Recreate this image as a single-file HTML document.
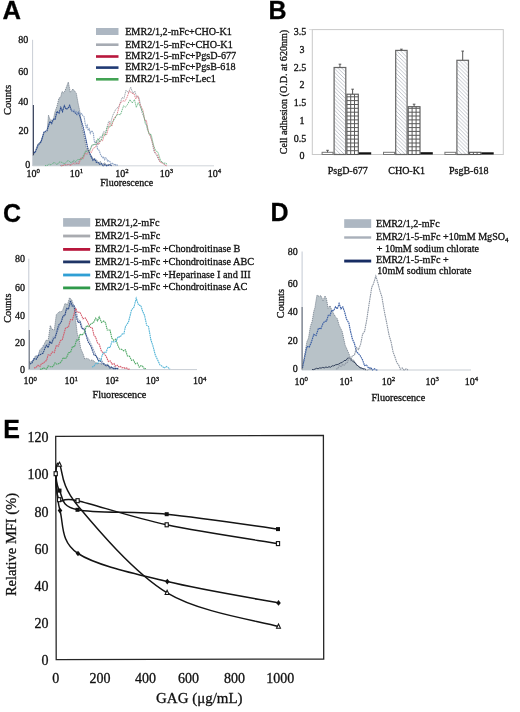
<!DOCTYPE html>
<html><head><meta charset="utf-8"><style>
html,body{margin:0;padding:0;background:#fff;}
svg{display:block;filter:blur(0.3px);}
text{stroke:#111;stroke-width:0.3px;}
</style></head><body>
<svg width="520" height="712" viewBox="0 0 520 712">
<rect width="520" height="712" fill="#fff"/>
<text x="2.5" y="19.1" font-family="Liberation Sans" font-weight="bold" font-size="25.6" fill="#000">A</text>
<rect x="96" y="28" width="22.5" height="7" fill="#adb7c2"/>
<rect x="96" y="43.400000000000006" width="22.5" height="2.6" fill="#a6abb3"/>
<rect x="96" y="55.2" width="22.5" height="2.6" fill="#b8173c"/>
<rect x="96" y="66.3" width="22.5" height="2.6" fill="#203a74"/>
<rect x="96" y="78.0" width="22.5" height="2.6" fill="#43a354"/>
<text x="125.2" y="34.7" font-family="Liberation Serif" font-size="10.15" text-anchor="start" font-weight="normal" fill="#111" >EMR2/1,2-mFc+CHO-K1</text>
<text x="125.2" y="48" font-family="Liberation Serif" font-size="10.15" text-anchor="start" font-weight="normal" fill="#111" >EMR2/1-5-mFc+CHO-K1</text>
<text x="125.2" y="59.4" font-family="Liberation Serif" font-size="10.15" text-anchor="start" font-weight="normal" fill="#111" >EMR2/1-5-mFc+PgsD-677</text>
<text x="125.2" y="70.4" font-family="Liberation Serif" font-size="10.15" text-anchor="start" font-weight="normal" fill="#111" >EMR2/1-5-mFc+PgsB-618</text>
<text x="125.2" y="82" font-family="Liberation Serif" font-size="10.15" text-anchor="start" font-weight="normal" fill="#111" >EMR2/1-5-mFc+Lec1</text>
<line x1="32.6" y1="39.8" x2="32.6" y2="166" stroke="#c9ced6" stroke-width="1"/>
<line x1="32.6" y1="165.8" x2="214" y2="165.8" stroke="#c4c9d0" stroke-width="0.8"/>
<text x="28.3" y="43" font-family="Liberation Serif" font-size="10" text-anchor="end" font-weight="normal" fill="#111" >80</text>
<text x="28.3" y="75.4" font-family="Liberation Serif" font-size="10" text-anchor="end" font-weight="normal" fill="#111" >60</text>
<text x="28.3" y="104.9" font-family="Liberation Serif" font-size="10" text-anchor="end" font-weight="normal" fill="#111" >40</text>
<text x="28.5" y="134.4" font-family="Liberation Serif" font-size="10" text-anchor="end" font-weight="normal" fill="#111" >20</text>
<text x="30.2" y="167.9" font-family="Liberation Serif" font-size="10" text-anchor="end" font-weight="normal" fill="#111" >0</text>
<text x="33.3" y="176.5" font-family="Liberation Serif" font-size="10" text-anchor="middle" fill="#111">10<tspan font-size="6.8" dy="-3.6">0</tspan></text>
<text x="76.5" y="176.5" font-family="Liberation Serif" font-size="10" text-anchor="middle" fill="#111">10<tspan font-size="6.8" dy="-3.6">1</tspan></text>
<text x="122" y="176.5" font-family="Liberation Serif" font-size="10" text-anchor="middle" fill="#111">10<tspan font-size="6.8" dy="-3.6">2</tspan></text>
<text x="166.5" y="176.5" font-family="Liberation Serif" font-size="10" text-anchor="middle" fill="#111">10<tspan font-size="6.8" dy="-3.6">3</tspan></text>
<text x="214.5" y="176.5" font-family="Liberation Serif" font-size="10" text-anchor="middle" fill="#111">10<tspan font-size="6.8" dy="-3.6">4</tspan></text>
<text x="126.7" y="185.8" font-family="Liberation Serif" font-size="10" text-anchor="middle" font-weight="normal" fill="#111" >Fluorescence</text>
<text transform="translate(11.3,100) rotate(-90)" font-family="Liberation Serif" font-size="10.6" text-anchor="middle" fill="#111">Counts</text>
<polygon points="33.0,165.8 33.0,156.0 35.0,151.7 38.0,143.9 41.0,141.1 44.0,132.2 47.0,132.0 48.5,115.1 50.0,119.5 53.0,120.9 55.0,111.8 57.0,106.2 59.0,97.9 60.5,97.7 62.0,91.5 64.0,93.1 65.7,89.0 68.3,82.0 70.3,92.2 73.0,89.0 76.3,93.2 78.3,104.2 80.0,111.9 82.1,127.9 84.1,136.2 86.2,147.5 89.3,152.9 92.3,157.4 94.4,160.4 96.4,159.7 98.5,162.4 100.5,161.5 102.6,164.9 104.6,162.6 106.7,165.4 108.7,164.2 112.0,165.8 112.0,165.8" fill="#b8c2c8" stroke="none"/><polyline points="33.0,156.0 35.0,151.7 38.0,143.9 41.0,141.1 44.0,132.2 47.0,132.0 48.5,115.1 50.0,119.5 53.0,120.9 55.0,111.8 57.0,106.2 59.0,97.9 60.5,97.7 62.0,91.5 64.0,93.1 65.7,89.0 68.3,82.0 70.3,92.2 73.0,89.0 76.3,93.2 78.3,104.2 80.0,111.9 82.1,127.9 84.1,136.2 86.2,147.5 89.3,152.9 92.3,157.4 94.4,160.4 96.4,159.7 98.5,162.4 100.5,161.5 102.6,164.9 104.6,162.6 106.7,165.4 108.7,164.2 112.0,165.8" fill="none" stroke="#6d7886" stroke-width="0.8" stroke-dasharray="1.2 0.8"/>
<polyline points="33.6,152.0 35.0,152.8 38.0,145.3 41.0,142.0 44.0,132.1 47.0,130.5 50.0,121.4 51.7,123.5 53.3,119.3 55.0,119.4 57.0,111.5 59.0,113.2 60.8,107.5 62.5,111.6 64.3,105.8 66.1,109.2 67.9,108.4 69.7,105.4 71.5,110.8 73.2,111.0 75.0,112.6 76.8,114.4 78.5,112.4 80.3,117.5 83.0,126.3 85.0,135.3 88.0,149.5 90.0,154.0 93.0,160.4 94.7,159.0 96.3,162.3 98.0,162.5 99.8,164.2 101.5,163.6 103.2,165.8 105.0,164.6 106.8,165.8 108.5,165.1 110.2,164.9 112.0,165.7" fill="none" stroke="#2d4d8f" stroke-width="1.2" stroke-dasharray="1.6 0.5" stroke-opacity="1.0"/>
<line x1="33.4" y1="105" x2="33.4" y2="155" stroke="#2b3550" stroke-width="1"/>
<polyline points="72.0,110.0 73.0,111.5 74.1,109.3 75.1,112.1 76.2,111.0 77.2,114.6 78.2,112.1 79.3,112.0 80.3,114.7 81.6,113.6 82.8,115.6 84.1,116.7 85.1,123.2 86.2,127.4 87.2,125.3 88.2,130.5 89.2,128.9 90.3,133.3 91.3,130.8 92.4,131.5 93.4,133.7 94.4,141.8 95.4,142.7 96.4,142.3 97.5,148.9 98.5,149.5 99.5,151.4 100.5,154.6 101.6,156.4 102.6,157.6 103.6,156.7 104.6,159.7 105.7,157.8 106.7,158.7 107.7,161.3 108.7,160.6 109.8,161.4 110.8,163.3 111.8,164.2 112.8,163.4 113.9,164.9 114.9,163.9 115.9,165.4 117.0,164.9 118.0,165.6" fill="none" stroke="#8ea3c4" stroke-width="1.1" stroke-dasharray="1.6 0.6" stroke-opacity="1.0"/>
<polyline points="60.0,165.5 62.0,165.8 64.0,164.4 66.0,165.8 68.0,164.2 70.0,165.2 72.0,162.8 74.0,161.5 76.0,163.5 78.0,164.0 80.0,158.4 82.1,158.6 84.1,156.0 86.2,150.5 88.2,148.5 90.3,149.9 92.3,145.1 94.4,144.9 96.4,140.3 98.1,144.9 99.9,136.9 101.6,137.5 103.7,131.5 105.7,132.4 108.7,121.2 110.8,122.2 112.8,115.3 115.9,109.1 119.0,106.5 122.1,97.5 124.0,98.5 126.0,90.1 128.5,92.8 130.7,87.2 133.0,93.5 134.8,91.0 136.7,97.0 139.0,97.3 141.9,112.4 143.7,116.7 145.4,120.4 147.5,130.2 149.7,133.2 152.0,141.7 154.0,151.6 156.5,155.3 159.2,160.9 162.0,162.3 164.0,163.7 166.0,165.5" fill="none" stroke="#8e969f" stroke-width="0.9" stroke-dasharray="1.3 0.7" stroke-opacity="1.0"/>
<polyline points="61.0,165.8 63.0,165.8 65.0,164.5 67.0,165.0 69.0,164.4 71.0,165.8 73.0,163.1 75.0,164.3 77.0,162.7 79.0,164.0 81.0,157.8 83.1,159.0 85.1,153.2 87.2,154.3 89.2,150.2 91.3,152.6 93.3,148.1 95.4,147.3 97.4,143.4 99.1,143.9 100.9,139.7 102.6,140.8 104.7,133.5 106.7,134.7 109.7,122.5 111.8,126.3 113.8,118.5 116.9,114.9 120.0,103.3 123.1,100.7 125.0,101.3 127.0,97.4 129.5,90.6 131.7,93.3 134.0,93.7 135.8,99.0 137.7,95.6 140.0,104.3 142.9,110.1 144.7,120.5 146.4,120.4 148.5,132.5 150.7,136.8 153.0,144.1 155.0,152.2 157.5,154.9 160.2,162.3 163.0,163.3 165.0,165.4 167.0,165.8" fill="none" stroke="#dc6f7c" stroke-width="0.9" stroke-dasharray="1.3 0.7" stroke-opacity="1.0"/>
<polyline points="45.0,165.5 47.0,165.8 49.0,163.9 51.0,165.0 53.0,163.0 55.0,162.6 57.0,164.8 59.0,162.1 61.0,162.0 63.0,163.1 65.0,163.7 66.8,161.3 68.5,160.5 70.2,162.4 72.0,162.3 73.9,160.2 75.8,161.9 77.6,159.5 79.5,159.5 81.5,159.7 83.6,154.9 85.6,150.9 87.7,151.9 89.7,150.9 91.8,145.1 93.8,144.5 95.9,144.6 97.9,138.4 99.6,142.0 101.4,140.1 103.1,133.8 105.2,135.8 107.2,126.8 110.2,127.0 112.2,122.2 114.3,119.6 117.4,114.3 120.5,114.7 123.6,105.8 125.5,107.2 127.5,104.5 130.0,99.7 132.2,103.0 134.5,99.6 136.3,107.4 138.2,102.7 140.5,107.0 143.4,113.4 145.2,123.4 146.9,125.4 149.0,134.3 151.2,134.6 153.5,144.9 155.5,150.6 158.0,152.3 160.7,160.9 163.5,163.2 165.5,163.1 167.5,164.5" fill="none" stroke="#5cb07a" stroke-width="0.9" stroke-dasharray="1.3 0.7" stroke-opacity="1.0"/>
<text x="268.6" y="19" font-family="Liberation Sans" font-weight="bold" font-size="25" fill="#000">B</text>
<defs><pattern id="hatch" patternUnits="userSpaceOnUse" width="3.8" height="3.8"><path d="M-1,-1 L4.8,4.8 M-4.8,-1 L1,4.8 M2.8,-1 L8.6,4.8" stroke="#bcc0c8" stroke-width="0.95"/></pattern></defs>
<rect x="312.3" y="29.6" width="191" height="124.9" fill="none" stroke="#c9c9c9" stroke-width="1"/>
<line x1="309" y1="29.6" x2="312.3" y2="29.6" stroke="#d0d0d0" stroke-width="0.8"/>
<text x="306.2" y="35.2" font-family="Liberation Serif" font-size="10" text-anchor="end" font-weight="normal" fill="#111" >3.5</text>
<text x="304.4" y="52.6" font-family="Liberation Serif" font-size="10" text-anchor="end" font-weight="normal" fill="#111" >3</text>
<text x="306.2" y="70.6" font-family="Liberation Serif" font-size="10" text-anchor="end" font-weight="normal" fill="#111" >2.5</text>
<text x="304.4" y="88" font-family="Liberation Serif" font-size="10" text-anchor="end" font-weight="normal" fill="#111" >2</text>
<text x="306.2" y="105.8" font-family="Liberation Serif" font-size="10" text-anchor="end" font-weight="normal" fill="#111" >1.5</text>
<text x="304.4" y="123.8" font-family="Liberation Serif" font-size="10" text-anchor="end" font-weight="normal" fill="#111" >1</text>
<text x="306.2" y="141.8" font-family="Liberation Serif" font-size="10" text-anchor="end" font-weight="normal" fill="#111" >0.5</text>
<text x="304.4" y="158.8" font-family="Liberation Serif" font-size="10" text-anchor="end" font-weight="normal" fill="#111" >0</text>
<text transform="translate(286.8,92) rotate(-90)" font-family="Liberation Serif" font-size="10.1" text-anchor="middle" fill="#111">Cell adhesion (O.D. at 620nm)</text>
<rect x="322.1" y="152.3" width="10.899999999999977" height="2.1999999999999886" fill="#fff" stroke="#777" stroke-width="1"/>
<line x1="327.55" y1="150.3" x2="327.55" y2="152.3" stroke="#555" stroke-width="1"/><line x1="326.25" y1="150.3" x2="328.85" y2="150.3" stroke="#555" stroke-width="1"/>
<rect x="334.1" y="67.5" width="11.699999999999978" height="87.0" fill="url(#hatch)" stroke="#666" stroke-width="1.2"/>
<line x1="339.95" y1="64.2" x2="339.95" y2="67.5" stroke="#555" stroke-width="1"/><line x1="338.65" y1="64.2" x2="341.25" y2="64.2" stroke="#555" stroke-width="1"/>
<rect x="346.9" y="94.2" width="11.400000000000034" height="60.3" fill="#fff" stroke="#555" stroke-width="1.1"/><line x1="350.7" y1="94.2" x2="350.7" y2="154.5" stroke="#5a5a5a" stroke-width="1"/><line x1="354.5" y1="94.2" x2="354.5" y2="154.5" stroke="#5a5a5a" stroke-width="1"/><line x1="346.9" y1="150.7" x2="358.3" y2="150.7" stroke="#5a5a5a" stroke-width="1"/><line x1="346.9" y1="146.8" x2="358.3" y2="146.8" stroke="#5a5a5a" stroke-width="1"/><line x1="346.9" y1="143.0" x2="358.3" y2="143.0" stroke="#5a5a5a" stroke-width="1"/><line x1="346.9" y1="139.1" x2="358.3" y2="139.1" stroke="#5a5a5a" stroke-width="1"/><line x1="346.9" y1="135.3" x2="358.3" y2="135.3" stroke="#5a5a5a" stroke-width="1"/><line x1="346.9" y1="131.4" x2="358.3" y2="131.4" stroke="#5a5a5a" stroke-width="1"/><line x1="346.9" y1="127.6" x2="358.3" y2="127.6" stroke="#5a5a5a" stroke-width="1"/><line x1="346.9" y1="123.7" x2="358.3" y2="123.7" stroke="#5a5a5a" stroke-width="1"/><line x1="346.9" y1="119.9" x2="358.3" y2="119.9" stroke="#5a5a5a" stroke-width="1"/><line x1="346.9" y1="116.0" x2="358.3" y2="116.0" stroke="#5a5a5a" stroke-width="1"/><line x1="346.9" y1="112.2" x2="358.3" y2="112.2" stroke="#5a5a5a" stroke-width="1"/><line x1="346.9" y1="108.3" x2="358.3" y2="108.3" stroke="#5a5a5a" stroke-width="1"/><line x1="346.9" y1="104.5" x2="358.3" y2="104.5" stroke="#5a5a5a" stroke-width="1"/><line x1="346.9" y1="100.6" x2="358.3" y2="100.6" stroke="#5a5a5a" stroke-width="1"/><line x1="346.9" y1="96.8" x2="358.3" y2="96.8" stroke="#5a5a5a" stroke-width="1"/>
<line x1="352.6" y1="89.2" x2="352.6" y2="94.2" stroke="#555" stroke-width="1"/><line x1="351.3" y1="89.2" x2="353.90000000000003" y2="89.2" stroke="#555" stroke-width="1"/>
<rect x="358.8" y="152.3" width="12.399999999999977" height="2.1999999999999886" fill="#111"/>
<rect x="383.5" y="152.3" width="11.100000000000023" height="2.1999999999999886" fill="#fff" stroke="#777" stroke-width="1"/>
<rect x="395.70000000000005" y="50.4" width="11.399999999999967" height="104.1" fill="url(#hatch)" stroke="#666" stroke-width="1.2"/>
<line x1="401.4" y1="49.2" x2="401.4" y2="50.4" stroke="#555" stroke-width="1"/><line x1="400.09999999999997" y1="49.2" x2="402.7" y2="49.2" stroke="#555" stroke-width="1"/>
<rect x="408.2" y="106.7" width="11.800000000000011" height="47.8" fill="#fff" stroke="#555" stroke-width="1.1"/><line x1="412.1" y1="106.7" x2="412.1" y2="154.5" stroke="#5a5a5a" stroke-width="1"/><line x1="416.1" y1="106.7" x2="416.1" y2="154.5" stroke="#5a5a5a" stroke-width="1"/><line x1="408.2" y1="150.7" x2="420.0" y2="150.7" stroke="#5a5a5a" stroke-width="1"/><line x1="408.2" y1="146.8" x2="420.0" y2="146.8" stroke="#5a5a5a" stroke-width="1"/><line x1="408.2" y1="143.0" x2="420.0" y2="143.0" stroke="#5a5a5a" stroke-width="1"/><line x1="408.2" y1="139.1" x2="420.0" y2="139.1" stroke="#5a5a5a" stroke-width="1"/><line x1="408.2" y1="135.3" x2="420.0" y2="135.3" stroke="#5a5a5a" stroke-width="1"/><line x1="408.2" y1="131.4" x2="420.0" y2="131.4" stroke="#5a5a5a" stroke-width="1"/><line x1="408.2" y1="127.6" x2="420.0" y2="127.6" stroke="#5a5a5a" stroke-width="1"/><line x1="408.2" y1="123.7" x2="420.0" y2="123.7" stroke="#5a5a5a" stroke-width="1"/><line x1="408.2" y1="119.9" x2="420.0" y2="119.9" stroke="#5a5a5a" stroke-width="1"/><line x1="408.2" y1="116.0" x2="420.0" y2="116.0" stroke="#5a5a5a" stroke-width="1"/><line x1="408.2" y1="112.2" x2="420.0" y2="112.2" stroke="#5a5a5a" stroke-width="1"/><line x1="408.2" y1="108.3" x2="420.0" y2="108.3" stroke="#5a5a5a" stroke-width="1"/>
<line x1="414.1" y1="104.2" x2="414.1" y2="106.7" stroke="#555" stroke-width="1"/><line x1="412.8" y1="104.2" x2="415.40000000000003" y2="104.2" stroke="#555" stroke-width="1"/>
<rect x="420.5" y="152.2" width="12.300000000000011" height="2.3000000000000114" fill="#111"/>
<rect x="444.9" y="152.3" width="10.900000000000034" height="2.1999999999999886" fill="#fff" stroke="#777" stroke-width="1"/>
<rect x="456.90000000000003" y="60.3" width="11.600000000000012" height="94.2" fill="url(#hatch)" stroke="#666" stroke-width="1.2"/>
<line x1="462.70000000000005" y1="51.1" x2="462.70000000000005" y2="60.3" stroke="#555" stroke-width="1"/><line x1="461.40000000000003" y1="51.1" x2="464.00000000000006" y2="51.1" stroke="#555" stroke-width="1"/>
<rect x="469.6" y="152.3" width="11.299999999999955" height="2.1999999999999886" fill="#fff" stroke="#555" stroke-width="1.1"/><line x1="473.4" y1="152.3" x2="473.4" y2="154.5" stroke="#5a5a5a" stroke-width="1"/><line x1="477.1" y1="152.3" x2="477.1" y2="154.5" stroke="#5a5a5a" stroke-width="1"/>
<rect x="481.4" y="152.3" width="12.300000000000011" height="2.1999999999999886" fill="#111"/>
<text x="347.7" y="173.8" font-family="Liberation Serif" font-size="10" text-anchor="middle" font-weight="normal" fill="#111" >PsgD-677</text>
<text x="406.6" y="173.8" font-family="Liberation Serif" font-size="10" text-anchor="middle" font-weight="normal" fill="#111" >CHO-K1</text>
<text x="468.7" y="173.8" font-family="Liberation Serif" font-size="10" text-anchor="middle" font-weight="normal" fill="#111" >PsgB-618</text>
<text x="2.9" y="221.6" font-family="Liberation Sans" font-weight="bold" font-size="25" fill="#000">C</text>
<rect x="63.1" y="218.1" width="27.1" height="8.6" fill="#adb7c2"/>
<rect x="63.1" y="234.6" width="27.1" height="2.8" fill="#a9abb0"/>
<rect x="63.1" y="248.0" width="27.1" height="2.8" fill="#b8173c"/>
<rect x="63.1" y="260.5" width="27.1" height="2.8" fill="#1f3566"/>
<rect x="63.1" y="273.6" width="27.1" height="2.8" fill="#2f9fd4"/>
<rect x="63.1" y="286.5" width="27.1" height="2.8" fill="#2f9a4a"/>
<text x="95" y="226" font-family="Liberation Serif" font-size="10.22" text-anchor="start" font-weight="normal" fill="#111" >EMR2/1,2-mFc</text>
<text x="95" y="239.4" font-family="Liberation Serif" font-size="10.22" text-anchor="start" font-weight="normal" fill="#111" >EMR2/1-5-mFc</text>
<text x="95" y="252.3" font-family="Liberation Serif" font-size="10.22" text-anchor="start" font-weight="normal" fill="#111" >EMR2/1-5-mFc +Chondroitinase B</text>
<text x="95" y="264.8" font-family="Liberation Serif" font-size="10.22" text-anchor="start" font-weight="normal" fill="#111" >EMR2/1-5-mFc +Chondroitinase ABC</text>
<text x="95" y="277.7" font-family="Liberation Serif" font-size="10.22" text-anchor="start" font-weight="normal" fill="#111" >EMR2/1-5-mFc +Heparinase I and III</text>
<text x="95" y="290.4" font-family="Liberation Serif" font-size="10.22" text-anchor="start" font-weight="normal" fill="#111" >EMR2/1-5-mFc +Chondroitinase AC</text>
<line x1="28.8" y1="258.7" x2="28.8" y2="370" stroke="#c3c9d3" stroke-width="1"/>
<line x1="28.8" y1="369.6" x2="197" y2="369.6" stroke="#b9c0c8" stroke-width="0.8"/>
<text x="24.9" y="261.8" font-family="Liberation Serif" font-size="10" text-anchor="end" font-weight="normal" fill="#111" >80</text>
<text x="24.9" y="291.2" font-family="Liberation Serif" font-size="10" text-anchor="end" font-weight="normal" fill="#111" >60</text>
<text x="24.9" y="319.4" font-family="Liberation Serif" font-size="10" text-anchor="end" font-weight="normal" fill="#111" >40</text>
<text x="24.9" y="345.7" font-family="Liberation Serif" font-size="10" text-anchor="end" font-weight="normal" fill="#111" >20</text>
<text x="24.9" y="372.8" font-family="Liberation Serif" font-size="10" text-anchor="end" font-weight="normal" fill="#111" >0</text>
<text x="30.3" y="384.4" font-family="Liberation Serif" font-size="10" text-anchor="middle" fill="#111">10<tspan font-size="6.8" dy="-3.6">0</tspan></text>
<text x="71.2" y="384.4" font-family="Liberation Serif" font-size="10" text-anchor="middle" fill="#111">10<tspan font-size="6.8" dy="-3.6">1</tspan></text>
<text x="112" y="384.4" font-family="Liberation Serif" font-size="10" text-anchor="middle" fill="#111">10<tspan font-size="6.8" dy="-3.6">2</tspan></text>
<text x="152.5" y="384.4" font-family="Liberation Serif" font-size="10" text-anchor="middle" fill="#111">10<tspan font-size="6.8" dy="-3.6">3</tspan></text>
<text x="199.6" y="384.4" font-family="Liberation Serif" font-size="10" text-anchor="middle" fill="#111">10<tspan font-size="6.8" dy="-3.6">4</tspan></text>
<text x="119.4" y="397.8" font-family="Liberation Serif" font-size="10.2" text-anchor="middle" font-weight="normal" fill="#111" >Fluorescence</text>
<text transform="translate(11.4,308.2) rotate(-90)" font-family="Liberation Serif" font-size="10.3" text-anchor="middle" fill="#111">Counts</text>
<polygon points="29.2,369.6 29.2,362.0 31.1,361.7 33.0,360.6 35.5,355.8 38.1,356.4 39.8,349.9 41.5,348.2 43.2,346.4 46.0,340.3 48.2,340.3 50.3,325.4 52.0,329.3 54.3,330.0 56.3,314.6 59.0,311.9 62.4,311.2 65.0,303.5 67.5,304.6 69.5,297.9 71.5,299.5 73.8,305.4 75.6,319.6 77.3,334.0 79.0,338.0 80.7,348.5 83.0,353.7 84.8,359.0 86.5,358.4 88.2,358.7 90.0,360.4 92.5,360.0 95.0,361.9 97.5,363.7 100.0,363.1 102.0,364.9 104.0,363.3 106.0,366.9 108.0,364.7 110.0,367.1 112.0,367.9 114.0,368.7 116.0,368.2 118.0,369.0 118.0,369.6" fill="#b8c2c8" stroke="none"/><polyline points="29.2,362.0 31.1,361.7 33.0,360.6 35.5,355.8 38.1,356.4 39.8,349.9 41.5,348.2 43.2,346.4 46.0,340.3 48.2,340.3 50.3,325.4 52.0,329.3 54.3,330.0 56.3,314.6 59.0,311.9 62.4,311.2 65.0,303.5 67.5,304.6 69.5,297.9 71.5,299.5 73.8,305.4 75.6,319.6 77.3,334.0 79.0,338.0 80.7,348.5 83.0,353.7 84.8,359.0 86.5,358.4 88.2,358.7 90.0,360.4 92.5,360.0 95.0,361.9 97.5,363.7 100.0,363.1 102.0,364.9 104.0,363.3 106.0,366.9 108.0,364.7 110.0,367.1 112.0,367.9 114.0,368.7 116.0,368.2 118.0,369.0" fill="none" stroke="#6d7886" stroke-width="0.8" stroke-dasharray="1.2 0.8"/>
<polyline points="31.0,362.0 34.0,359.9 36.0,356.0 38.0,355.8 39.7,351.7 41.5,351.7 43.2,345.7 44.9,346.7 46.5,346.9 48.2,343.3 49.9,342.8 51.6,340.8 53.3,336.8 55.0,337.8 56.7,329.3 58.4,329.7 61.4,320.3 63.1,315.3 64.8,315.6 66.5,309.6 68.5,309.5 70.5,304.3 73.0,304.6 75.5,307.7 78.0,319.7 80.3,320.8 82.6,329.0 84.3,328.3 86.0,334.8 89.0,339.9 92.0,346.1 95.0,353.0 97.0,357.6 99.0,358.4 101.2,359.5 103.5,363.6 105.4,365.5 107.2,364.3 109.1,367.0 111.0,366.5 112.6,368.3 114.2,366.5 115.8,368.6 117.4,368.3 119.0,369.0" fill="none" stroke="#8fa0bb" stroke-width="1.05" stroke-dasharray="1.6 0.6" stroke-opacity="1.0"/>
<polyline points="30.0,364.0 32.0,362.9 34.0,358.6 36.2,359.3 38.5,355.4 40.9,354.2 43.2,353.0 44.9,348.2 46.5,345.3 48.2,347.7 49.9,341.7 51.6,343.8 53.3,339.1 55.0,337.8 56.7,332.9 58.4,325.5 61.4,321.8 63.1,315.8 64.8,315.7 66.5,308.4 68.5,308.7 70.5,300.7 72.2,306.1 74.0,305.9 76.4,317.7 78.1,322.5 79.9,321.6 81.6,328.0 84.7,330.2 87.8,341.2 90.9,346.3 94.0,354.9 96.1,355.7 98.2,360.4 100.3,360.7 102.4,363.8 104.3,364.0 106.2,365.8 108.1,365.0 110.0,368.1 111.6,367.2 113.2,368.4 114.8,369.1 116.4,367.9 118.0,369.0" fill="none" stroke="#2c4a86" stroke-width="1.1" stroke-dasharray="1.6 0.6" stroke-opacity="1.0"/>
<polyline points="34.0,368.0 36.0,367.5 38.0,365.3 40.0,366.4 41.6,363.3 43.2,363.5 44.9,361.5 46.5,360.6 48.2,354.6 50.2,355.3 52.3,351.9 54.3,352.6 56.3,345.6 58.4,346.1 60.4,340.7 62.4,339.4 65.4,328.4 68.5,326.8 70.5,319.6 72.5,319.8 75.6,308.3 77.3,312.2 80.0,312.2 83.0,318.7 85.3,317.9 87.6,321.7 89.9,327.1 92.3,328.0 94.0,335.3 95.7,337.3 97.5,343.0 99.2,344.2 101.5,351.4 103.8,353.3 106.1,356.2 108.4,361.6 110.3,361.0 112.1,364.3 114.0,363.5 115.6,366.2 117.2,365.2 118.8,366.8 120.4,366.4 122.0,367.9 123.6,367.4 125.2,368.6 126.8,367.9 128.4,369.3 130.0,369.0" fill="none" stroke="#d45a6a" stroke-width="1.1" stroke-dasharray="1.6 0.6" stroke-opacity="1.0"/>
<polyline points="40.0,369.0 41.6,369.6 43.3,367.7 44.9,368.6 46.6,369.1 48.2,365.9 49.9,366.6 51.6,367.2 53.3,366.1 55.0,362.9 56.7,364.2 58.4,363.8 60.0,363.0 61.6,361.0 63.3,357.6 64.9,358.7 66.5,357.7 68.5,352.8 70.5,352.5 72.5,346.4 74.5,346.8 76.6,340.0 78.4,340.4 80.1,334.0 81.9,335.2 84.2,333.0 86.5,325.6 88.8,326.8 91.1,323.6 93.4,322.9 95.7,318.2 97.5,320.8 99.2,316.9 101.5,322.4 103.8,321.0 105.5,322.7 107.2,330.0 110.0,330.1 111.9,338.3 113.8,340.4 115.8,339.2 117.7,345.1 119.6,349.1 121.6,349.3 123.5,350.9 125.4,349.8 127.4,355.9 129.5,356.2 131.5,360.4 133.4,359.9 135.3,363.8 137.3,362.9 139.2,367.2 140.9,365.7 142.6,366.2 144.3,368.7 146.0,368.5" fill="none" stroke="#4ea865" stroke-width="1.1" stroke-dasharray="1.6 0.6" stroke-opacity="1.0"/>
<polyline points="92.0,367.0 93.8,366.4 95.5,363.8 97.2,363.8 99.0,361.3 100.7,360.6 102.3,354.9 104.0,352.3 106.0,352.4 108.0,347.3 110.0,347.5 112.0,341.4 114.0,342.0 116.0,341.4 118.1,336.7 120.2,336.9 122.3,333.9 123.9,333.8 125.5,326.4 128.5,322.0 131.5,310.0 134.0,307.0 136.2,298.3 138.5,305.0 140.8,305.5 142.7,311.5 144.6,315.5 146.6,325.2 148.5,326.5 150.8,339.5 153.0,346.1 155.3,355.1 157.7,360.1 160.0,364.9 162.3,366.4 164.2,368.1 166.2,366.5 168.1,367.6 170.0,369.0" fill="none" stroke="#4fb3d6" stroke-width="1.1" stroke-dasharray="1.6 0.6" stroke-opacity="1.0"/>
<line x1="29.3" y1="330" x2="29.3" y2="369" stroke="#4b5563" stroke-width="0.8"/>
<text x="270.5" y="220.8" font-family="Liberation Sans" font-weight="bold" font-size="25" fill="#000">D</text>
<rect x="344.2" y="219.2" width="27" height="8.7" fill="#adb7c2"/>
<rect x="344.2" y="236.3" width="27" height="2.4" fill="#a9b0ba"/>
<rect x="344.2" y="259.6" width="27" height="2.9" fill="#172c63"/>
<text x="376" y="226.9" font-family="Liberation Serif" font-size="10.1" text-anchor="start" font-weight="normal" fill="#111" >EMR2/1,2-mFc</text>
<text x="376" y="239.8" font-family="Liberation Serif" font-size="10.1" text-anchor="start" font-weight="normal" fill="#111" >EMR2/1-5-mFc +10mM MgSO<tspan font-size="7" dy="2.5">4</tspan></text>
<text x="376.7" y="251.9" font-family="Liberation Serif" font-size="10.1" text-anchor="start" font-weight="normal" fill="#111" >+ 10mM sodium chlorate</text>
<text x="376" y="262.9" font-family="Liberation Serif" font-size="10.1" text-anchor="start" font-weight="normal" fill="#111" >EMR2/1-5-mFc +</text>
<text x="377.3" y="274.4" font-family="Liberation Serif" font-size="10.1" text-anchor="start" font-weight="normal" fill="#111" >10mM sodium chlorate</text>
<line x1="302.1" y1="251.5" x2="302.1" y2="370.3" stroke="#c3c9d3" stroke-width="1"/>
<line x1="302.1" y1="370" x2="471" y2="370" stroke="#b9c0c8" stroke-width="0.8"/>
<text x="297.8" y="255.4" font-family="Liberation Serif" font-size="10" text-anchor="end" font-weight="normal" fill="#111" >80</text>
<text x="297.8" y="286.6" font-family="Liberation Serif" font-size="10" text-anchor="end" font-weight="normal" fill="#111" >60</text>
<text x="297.8" y="314.8" font-family="Liberation Serif" font-size="10" text-anchor="end" font-weight="normal" fill="#111" >40</text>
<text x="297.8" y="343.8" font-family="Liberation Serif" font-size="10" text-anchor="end" font-weight="normal" fill="#111" >20</text>
<text x="297.8" y="371.7" font-family="Liberation Serif" font-size="10" text-anchor="end" font-weight="normal" fill="#111" >0</text>
<text x="301.2" y="385" font-family="Liberation Serif" font-size="10" text-anchor="middle" fill="#111">10<tspan font-size="6.8" dy="-3.6">0</tspan></text>
<text x="346.2" y="385" font-family="Liberation Serif" font-size="10" text-anchor="middle" fill="#111">10<tspan font-size="6.8" dy="-3.6">1</tspan></text>
<text x="388.4" y="385" font-family="Liberation Serif" font-size="10" text-anchor="middle" fill="#111">10<tspan font-size="6.8" dy="-3.6">2</tspan></text>
<text x="432.2" y="385" font-family="Liberation Serif" font-size="10" text-anchor="middle" fill="#111">10<tspan font-size="6.8" dy="-3.6">3</tspan></text>
<text x="471.4" y="385" font-family="Liberation Serif" font-size="10" text-anchor="middle" fill="#111">10<tspan font-size="6.8" dy="-3.6">4</tspan></text>
<text x="398.3" y="400.6" font-family="Liberation Serif" font-size="10.2" text-anchor="middle" font-weight="normal" fill="#111" >Fluorescence</text>
<text transform="translate(284.4,303.6) rotate(-90)" font-family="Liberation Serif" font-size="10.3" text-anchor="middle" fill="#111">Counts</text>
<polygon points="302.4,370.0 302.4,366.0 304.0,358.6 306.9,341.7 308.5,338.1 310.4,326.3 312.1,321.6 313.8,311.3 315.0,307.4 315.8,301.9 317.0,295.0 319.0,296.4 321.0,295.7 323.0,300.6 325.0,295.9 326.5,299.0 328.1,308.3 330.0,305.7 331.8,310.2 333.6,313.5 335.5,316.9 337.3,318.6 339.1,325.2 342.2,331.5 345.2,345.3 348.3,352.2 351.0,359.0 353.8,360.2 357.0,365.9 360.0,366.9 362.0,369.0 364.0,369.7 366.0,370.0 368.0,370.0 370.0,368.4 372.0,370.0 372.0,370.0" fill="#b8c2c8" stroke="none"/><polyline points="302.4,366.0 304.0,358.6 306.9,341.7 308.5,338.1 310.4,326.3 312.1,321.6 313.8,311.3 315.0,307.4 315.8,301.9 317.0,295.0 319.0,296.4 321.0,295.7 323.0,300.6 325.0,295.9 326.5,299.0 328.1,308.3 330.0,305.7 331.8,310.2 333.6,313.5 335.5,316.9 337.3,318.6 339.1,325.2 342.2,331.5 345.2,345.3 348.3,352.2 351.0,359.0 353.8,360.2 357.0,365.9 360.0,366.9 362.0,369.0 364.0,369.7 366.0,370.0 368.0,370.0 370.0,368.4 372.0,370.0" fill="none" stroke="#6d7886" stroke-width="0.8" stroke-dasharray="1.2 0.8"/>
<polyline points="302.5,368.0 304.6,357.5 306.9,346.5 309.2,347.1 311.5,341.8 313.8,334.4 316.1,335.5 318.5,328.2 320.8,329.0 323.0,323.5 324.8,321.3 326.5,321.1 328.3,315.3 330.0,315.5 331.8,310.3 333.6,310.7 335.5,306.7 337.3,308.9 339.1,303.6 341.0,308.9 342.8,306.8 344.6,311.9 346.5,319.1 348.9,323.1 350.4,330.9 352.4,339.1 354.4,343.3 356.4,351.7 358.5,353.7 360.5,356.1 362.6,360.1 364.6,365.6 366.6,365.1 368.7,368.3 370.7,367.5 372.5,369.9 374.4,368.8 376.2,370.0 378.0,370.0" fill="none" stroke="#3b5fa5" stroke-width="1.15" stroke-dasharray="1.6 0.6" stroke-opacity="1.0"/>
<polyline points="312.0,369.5 313.5,369.6 315.0,369.1 316.6,368.3 318.1,368.8 319.6,367.9 321.2,368.1 322.7,367.4 324.3,367.9 325.9,367.0 327.5,367.5 329.0,366.7 330.6,367.2 332.2,365.8 333.8,365.9 335.5,364.8 337.1,364.6 338.7,364.1 340.3,363.0 342.2,362.5 344.1,360.6 346.0,360.4 347.6,358.2 349.3,358.1 352.0,360.5 353.5,362.0 355.0,362.5 356.7,365.0 358.3,365.9 360.0,367.9 361.5,367.9 363.0,368.7 364.5,368.8 366.0,369.5" fill="none" stroke="#24324f" stroke-width="0.9" stroke-opacity="1.0"/>
<polyline points="336.0,369.0 337.7,368.8 339.3,365.4 341.0,366.6 342.6,364.4 344.3,365.1 345.9,363.2 347.5,362.3 349.2,357.1 350.8,360.3 352.4,355.5 354.4,355.2 356.5,347.6 358.5,349.6 360.6,344.4 362.6,334.1 364.6,331.3 366.7,320.1 368.7,306.6 371.8,287.0 373.5,283.7 375.8,276.1 378.0,283.3 379.9,290.8 381.9,296.8 384.0,309.6 387.0,324.5 389.1,335.5 391.1,341.9 393.1,352.2 395.2,357.6 396.9,362.9 398.6,364.8 400.3,369.2 402.2,368.0 404.1,370.0 406.1,368.8 408.0,370.0" fill="none" stroke="#8d96a3" stroke-width="1.1" stroke-dasharray="1.6 0.6" stroke-opacity="1.0"/>
<line x1="302.1" y1="307" x2="302.1" y2="369.5" stroke="#4b5563" stroke-width="0.9"/>
<text x="3.2" y="438.1" font-family="Liberation Sans" font-weight="bold" font-size="25" fill="#000">E</text>
<path d="M55.7,436.3 L323.4,435.5 L323.7,659 L56.2,659.6 Z" fill="none" stroke="#262626" stroke-width="1.3"/>
<text x="48.6" y="442.1" font-family="Liberation Serif" font-size="14" text-anchor="end" font-weight="normal" fill="#111" >120</text>
<text x="48.6" y="479.4" font-family="Liberation Serif" font-size="14" text-anchor="end" font-weight="normal" fill="#111" >100</text>
<text x="48.6" y="516.9" font-family="Liberation Serif" font-size="14" text-anchor="end" font-weight="normal" fill="#111" >80</text>
<text x="48.6" y="554" font-family="Liberation Serif" font-size="14" text-anchor="end" font-weight="normal" fill="#111" >60</text>
<text x="48.6" y="590.8" font-family="Liberation Serif" font-size="14" text-anchor="end" font-weight="normal" fill="#111" >40</text>
<text x="48.6" y="628.1" font-family="Liberation Serif" font-size="14" text-anchor="end" font-weight="normal" fill="#111" >20</text>
<text x="48.6" y="664.5" font-family="Liberation Serif" font-size="14" text-anchor="end" font-weight="normal" fill="#111" >0</text>
<text x="55.7" y="683.3" font-family="Liberation Serif" font-size="14" text-anchor="middle" font-weight="normal" fill="#111" >0</text>
<text x="99.9" y="683.3" font-family="Liberation Serif" font-size="14" text-anchor="middle" font-weight="normal" fill="#111" >200</text>
<text x="145.5" y="683.3" font-family="Liberation Serif" font-size="14" text-anchor="middle" font-weight="normal" fill="#111" >400</text>
<text x="188.6" y="683.3" font-family="Liberation Serif" font-size="14" text-anchor="middle" font-weight="normal" fill="#111" >600</text>
<text x="234.4" y="683.3" font-family="Liberation Serif" font-size="14" text-anchor="middle" font-weight="normal" fill="#111" >800</text>
<text x="280.3" y="683.3" font-family="Liberation Serif" font-size="14" text-anchor="middle" font-weight="normal" fill="#111" >1000</text>
<text x="199.3" y="702.7" font-family="Liberation Serif" font-size="14.95" text-anchor="middle" font-weight="normal" fill="#111" >GAG (μg/mL)</text>
<text transform="translate(16.3,544.5) rotate(-90)" font-family="Liberation Serif" font-size="14.5" text-anchor="middle" fill="#111">Relative MFI (%)</text>
<path d="M55.7,473.7 C56.3,476.5 55.9,484.6 59.5,490.6 C63.1,496.6 59.6,505.9 77.5,509.8 C95.4,513.7 133.3,511.0 166.7,514.2 C200.1,517.4 259.4,526.6 278.0,529.1" fill="none" stroke="#141414" stroke-width="1.5"/>
<path d="M55.7,473.7 C56.3,478.0 55.5,495.2 59.1,499.7 C62.8,504.2 59.7,496.5 77.6,500.7 C95.5,504.9 133.3,517.6 166.7,524.8 C200.1,531.9 259.4,540.5 278.0,543.6" fill="none" stroke="#141414" stroke-width="1.5"/>
<path d="M55.7,473.7 C56.4,479.9 56.3,497.3 60.0,510.6 C63.7,523.9 60.1,541.7 78.0,553.5 C95.9,565.3 133.9,573.4 167.3,581.6 C200.7,589.8 260.0,599.4 278.5,602.9" fill="none" stroke="#141414" stroke-width="1.5"/>
<path d="M55.7,473.7 C56.3,472.2 55.9,459.3 59.5,464.6 C63.1,469.9 59.7,484.1 77.6,505.5 C95.5,526.9 133.6,572.6 167.1,592.8 C200.6,613.0 259.9,620.9 278.5,626.5" fill="none" stroke="#141414" stroke-width="1.5"/>
<rect x="57.5" y="488.6" width="4" height="4" fill="#111"/>
<rect x="75.5" y="507.8" width="4" height="4" fill="#111"/>
<rect x="164.7" y="512.2" width="4" height="4" fill="#111"/>
<rect x="276" y="527.1" width="4" height="4" fill="#111"/>
<rect x="54.1" y="471.7" width="3.2" height="4" fill="#fff" stroke="#111" stroke-width="1.1"/>
<rect x="57.5" y="497.7" width="3.2" height="4" fill="#fff" stroke="#111" stroke-width="1.1"/>
<rect x="76.0" y="498.7" width="3.2" height="4" fill="#fff" stroke="#111" stroke-width="1.1"/>
<rect x="165.1" y="522.8" width="3.2" height="4" fill="#fff" stroke="#111" stroke-width="1.1"/>
<rect x="276.4" y="541.6" width="3.2" height="4" fill="#fff" stroke="#111" stroke-width="1.1"/>
<path d="M60,507.8 L62.3,510.6 L60,513.4 L57.7,510.6 Z" fill="#111"/>
<path d="M78,550.7 L80.3,553.5 L78,556.3 L75.7,553.5 Z" fill="#111"/>
<path d="M167.3,578.8000000000001 L169.60000000000002,581.6 L167.3,584.4 L165.0,581.6 Z" fill="#111"/>
<path d="M278.5,600.1 L280.8,602.9 L278.5,605.6999999999999 L276.2,602.9 Z" fill="#111"/>
<path d="M59.5,462.1 L61.5,466.3 L57.5,466.3 Z" fill="#fff" stroke="#111" stroke-width="1.05"/>
<path d="M167.1,590.3 L169.1,594.5 L165.1,594.5 Z" fill="#fff" stroke="#111" stroke-width="1.05"/>
<path d="M278.5,624.0 L280.5,628.2 L276.5,628.2 Z" fill="#fff" stroke="#111" stroke-width="1.05"/>
</svg>
</body></html>
